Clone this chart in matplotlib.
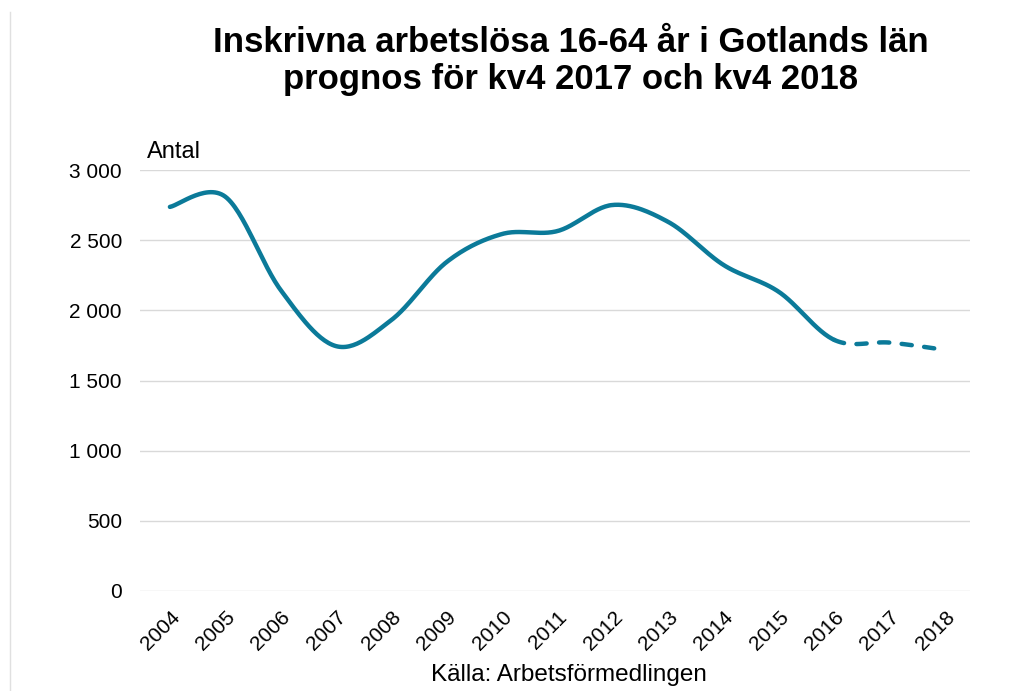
import matplotlib.pyplot as plt
import numpy as np
from matplotlib import font_manager

plt.rcParams['font.family'] = ['Liberation Sans', 'DejaVu Sans']

# data
years = ['2004', '2005', '2006', '2007', '2008', '2009', '2010', '2011',
         '2012', '2013', '2014', '2015', '2016', '2017', '2018']
antal = [2737, 2810, 2145, 1745, 1931, 2345, 2544, 2565,
         2751, 2630, 2323, 2131, 1789, 1770, 1718]
n_actual = 13  # 2004-2016 actual, 2017-2018 forecast

yticks = [0, 500, 1000, 1500, 2000, 2500, 3000]
ytick_labels = ['0', '500', '1 000', '1 500', '2 000', '2 500', '3 000']

color = '#0B7A99'


def smooth(x, y, steps=30):
    # Catmull-Rom style smoothing, like Excel's smoothed line
    x = np.asarray(x, float)
    y = np.asarray(y, float)
    px = np.concatenate([[x[0]], x, [x[-1]]])
    py = np.concatenate([[y[0]], y, [y[-1]]])
    xs, ys = [], []
    t = np.linspace(0, 1, steps)
    for i in range(1, len(px) - 2):
        for p, out in ((px, xs), (py, ys)):
            p0, p1, p2, p3 = p[i - 1], p[i], p[i + 1], p[i + 2]
            c1 = p1 + (p2 - p0) / 6
            c2 = p2 - (p3 - p1) / 6
            out.append((1 - t)**3 * p1 + 3 * (1 - t)**2 * t * c1
                       + 3 * (1 - t) * t**2 * c2 + t**3 * p2)
    return np.concatenate(xs), np.concatenate(ys)


fig = plt.figure(figsize=(10.16, 6.91), dpi=100)
ax = fig.add_axes([140 / 1016, 1 - 591 / 691, 830 / 1016, 421 / 691])

idx = np.arange(len(years))
sx, sy = smooth(idx, antal)
k = (n_actual - 1) * 30
ax.plot(sx[:k], sy[:k], color=color, lw=3.2, solid_capstyle='round')
ax.plot(sx[k - 1:], sy[k - 1:], color=color, lw=3.2, ls=(0, (2.3, 2.8)),
        dash_capstyle='round')

ax.set_xlim(-0.54, 14.45)
ax.set_ylim(0, 3000)
ax.set_yticks(yticks)
ax.set_yticklabels(ytick_labels, fontsize=15)
ax.set_xticks(idx)
ax.set_xticklabels(years, fontsize=15, rotation=45, ha='right', va='top',
                   rotation_mode='anchor')
ax.tick_params(axis='both', length=0)
ax.tick_params(axis='y', pad=13)
ax.tick_params(axis='x', pad=12)
ax.grid(axis='y', color='#D9D9D9', lw=1)
ax.set_axisbelow(True)
for s in ax.spines.values():
    s.set_visible(False)

# title font: condensed if available
names = {f.name for f in font_manager.fontManager.ttflist}
if 'Liberation Sans Narrow' in names:
    tfont, tsize = 'Liberation Sans Narrow', 29
else:
    tfont, tsize = 'Liberation Sans', 25

fig.text(147 / 1016, 1 - 152 / 691, 'Antal', fontsize=17, va='center')
fig.text(571 / 1016, 1 - 42 / 691, 'Inskrivna arbetslösa 16-64 år i Gotlands län',
         family=tfont, fontsize=tsize, fontweight='bold', ha='center', va='center')
fig.text(571 / 1016, 1 - 80 / 691, 'prognos för kv4 2017 och kv4 2018',
         family=tfont, fontsize=tsize, fontweight='bold', ha='center', va='center')
fig.text(569 / 1016, 1 - 675 / 691, 'Källa: Arbetsförmedlingen',
         fontsize=17.5, ha='center', va='center')
fig.add_artist(plt.Line2D([10 / 1016, 10 / 1016], [0, 1 - 12 / 691],
                          color='#E0E0E0', lw=1))

fig.savefig('out.png', dpi=100)
